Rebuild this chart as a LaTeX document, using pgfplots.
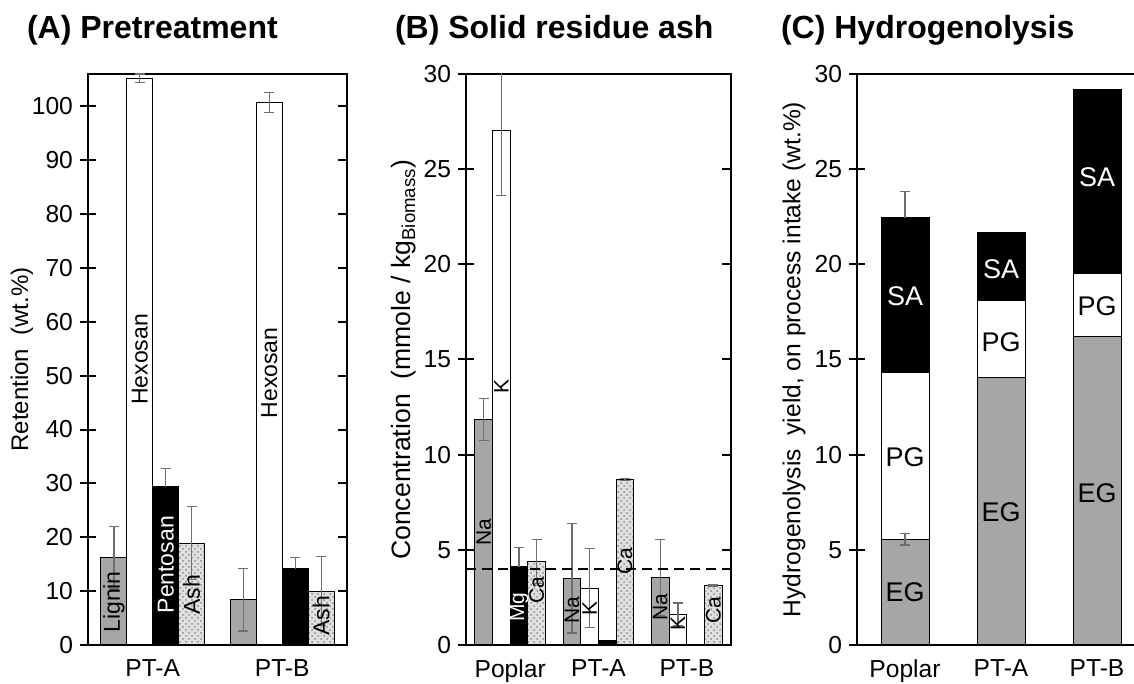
\documentclass[border=0pt]{standalone}
\usepackage{pgfplots}
\pgfplotsset{compat=1.18}
\usetikzlibrary{patterns}
\usepackage{fontspec}
\setmainfont{Liberation Sans}
\definecolor{barg}{RGB}{166,166,166}
\definecolor{errc}{RGB}{110,110,110}

\pgfplotsset{
  panel/.style={
    scale only axis, height=285.5pt, ymin=0,
    axis line style={line width=1pt},
    tick style={black, line width=1pt},
    tick align=center, major tick length=8pt,
    ytick pos=left,
    xtick style={draw=none},
    /pgf/number format/assume math mode=true,
    tick label style={font=\fontsize{12.3}{13}\selectfont},
    every axis y label/.style={rotate=90, anchor=center, font=\fontsize{12}{14}\selectfont},
  },
  rticks/.style={
    scale only axis, height=285.5pt, ymin=0,
    axis x line=none, axis y line*=right,
    axis line style={line width=1pt},
    tick style={black, line width=1pt},
    tick align=inside, major tick length=4.5pt,
    yticklabels={}, xtick=\empty,
  },
  bars/.style={ybar, bar width=#1, bar shift=0pt, draw=black, line width=0.5pt},
  eb/.style={error bars/.cd, y dir=both, y explicit,
    error bar style={errc, line width=0.6pt},
    error mark options={rotate=90, mark size=2.5pt, errc, line width=0.6pt}},
  ebp/.style={error bars/.cd, y dir=plus, y explicit,
    error bar style={errc, line width=0.6pt},
    error mark options={rotate=90, mark size=2.5pt, errc, line width=0.6pt}},
  dotfill/.style={fill=black!12, postaction={pattern=crosshatch dots, pattern color=black!45}},
}

\begin{document}
\begin{tikzpicture}
\useasboundingbox (0,0) rectangle (567pt,342pt);

\node[anchor=west, font=\fontsize{16}{18}\selectfont\bfseries] at (10pt,327pt) {(A) Pretreatment};
\node[anchor=west, font=\fontsize{16}{18}\selectfont\bfseries] at (194pt,327pt) {(B) Solid residue ash};
\node[anchor=west, font=\fontsize{16}{18}\selectfont\bfseries] at (387pt,327pt) {(C) Hydrogenolysis};

% ---------------- Panel A ----------------
\begin{axis}[panel, at={(44pt,19.5pt)}, anchor=south west, width=129.5pt,
  xmin=-0.5, xmax=1.5, ymax=106,
  xtick={0,1}, xticklabels={PT-A,PT-B}, ytick={0,10,...,100},
  ylabel={Retention\ \ (wt.\%)}, ylabel style={at={(axis description cs:-0.255,0.5)}}]
% Lignin
\addplot[bars=0.2, fill=barg, eb] coordinates {(-0.3,16.2) +- (0,5.8) (0.7,8.4) +- (0,5.8)};
% Hexosan
\addplot[bars=0.2, fill=white, eb] coordinates {(-0.1,105.2) +- (0,0.8) (0.9,100.7) +- (0,1.8)};
% Pentosan
\addplot[bars=0.2, fill=black, ebp] coordinates {(0.1,29.4) +- (0,3.4) (1.1,14.2) +- (0,2.0)};
% Ash
\addplot[bars=0.2, dotfill, eb] coordinates {(0.3,18.9) +- (0,6.8) (1.3,10.0) +- (0,6.4)};
\begin{scope}[every node/.style={rotate=90, font=\fontsize{11.5}{12}\selectfont}]
\node at (axis cs:-0.3,8.0) {Lignin};
\node at (axis cs:-0.1,53) {Hexosan};
\node at (axis cs:0.9,50.5) {Hexosan};
\node[text=white] at (axis cs:0.1,14.9) {Pentosan};
\node at (axis cs:0.3,9.3) {Ash};
\node at (axis cs:1.3,5.4) {Ash};
\end{scope}
\end{axis}
\begin{axis}[rticks, at={(44pt,19.5pt)}, anchor=south west, width=129.5pt,
  xmin=-0.5, xmax=1.5, ymax=106, ytick={0,10,...,100}]
\addplot[draw=none, forget plot] coordinates {(0,0)};
\end{axis}

% ---------------- Panel B ----------------
\begin{axis}[panel, at={(233pt,19.5pt)}, anchor=south west, width=132.5pt,
  xmin=-0.5, xmax=2.5, ymax=30,
  xtick={0,1,2}, xticklabels={Poplar,PT-A,PT-B}, ytick={0,5,...,30},
  ylabel={Concentration\ \ (mmole / kg$_{\mathrm{Biomass}}$)},
  ylabel style={at={(axis description cs:-0.234,0.5)}, font=\fontsize{13.3}{15}\selectfont}]
% Na
\addplot[bars=0.2, fill=barg, eb] coordinates {(-0.3,11.86) +- (0,1.1) (0.7,3.5) +- (0,2.87) (1.7,3.54) +- (0,2.0)};
% K
\addplot[bars=0.2, fill=white, eb] coordinates {(-0.1,27.03) +- (0,3.4) (0.9,2.98) +- (0,2.08) (1.9,1.61) +- (0,0.6)};
% Mg
\addplot[bars=0.2, fill=black, ebp] coordinates {(0.1,4.11) +- (0,1.0)};
\addplot[bars=0.2, fill=black] coordinates {(1.1,0.26) (2.1,0.05)};
% Ca
\addplot[bars=0.2, dotfill, eb] coordinates {(0.3,4.38) +- (0,1.15) (1.3,8.71) +- (0,0.05) (2.3,3.12) +- (0,0.03)};
\addplot[black, dash pattern=on 5pt off 3pt, line width=1.1pt, sharp plot, forget plot] coordinates {(-0.5,4.0) (2.5,4.0)};
\begin{scope}[every node/.style={rotate=90, font=\fontsize{10.5}{11}\selectfont}]
\node at (axis cs:-0.3,5.94) {Na};
\node at (axis cs:-0.1,13.6) {K};
\node[text=white] at (axis cs:0.1,2.0) {Mg};
\node at (axis cs:0.3,2.9) {Ca};
\node at (axis cs:0.7,1.84) {Na};
\node at (axis cs:0.9,1.9) {K};
\node at (axis cs:1.3,4.4) {Ca};
\node at (axis cs:1.7,1.97) {Na};
\node at (axis cs:1.9,1.15) {K};
\node at (axis cs:2.3,1.84) {Ca};
\end{scope}
\end{axis}
\begin{axis}[rticks, at={(233pt,19.5pt)}, anchor=south west, width=132.5pt,
  xmin=-0.5, xmax=2.5, ymax=30, ytick={0,5,...,30}]
\addplot[draw=none, forget plot] coordinates {(0,0)};
\end{axis}

% ---------------- Panel C ----------------
\begin{axis}[panel, at={(428.5pt,19.5pt)}, anchor=south west, width=144pt,
  xmin=-0.5, xmax=2.5, ymax=30,
  xtick={0,1,2}, xticklabels={Poplar,PT-A,PT-B}, ytick={0,5,...,30},
  ylabel={Hydrogenolysis\ \ yield, on process intake (wt.\%)},
  ylabel style={at={(axis description cs:-0.219,0.5)}, font=\fontsize{12.3}{14}\selectfont}]
% cumulative heights: SA (total), PG, EG
\addplot[bars=0.5, fill=black, ebp] coordinates {(0,22.44) +- (0,1.38)};
\addplot[bars=0.5, fill=black] coordinates {(1,21.67) (2,29.17)};
\addplot[bars=0.5, fill=white] coordinates {(0,14.31) (1,18.09) (2,19.5)};
\addplot[bars=0.5, fill=barg, eb] coordinates {(0,5.55) +- (0,0.3)};
\addplot[bars=0.5, fill=barg] coordinates {(1,14.05) (2,16.2)};
\begin{scope}[every node/.style={font=\fontsize{13.5}{14}\selectfont}]
\node[text=white] at (axis cs:0,18.3) {SA};
\node at (axis cs:0,9.85) {PG};
\node at (axis cs:0,2.77) {EG};
\node[text=white] at (axis cs:1,19.76) {SA};
\node at (axis cs:1,15.9) {PG};
\node at (axis cs:1,6.97) {EG};
\node[text=white] at (axis cs:2,24.6) {SA};
\node at (axis cs:2,17.8) {PG};
\node at (axis cs:2,8.0) {EG};
\end{scope}
\end{axis}
\end{tikzpicture}
\end{document}
